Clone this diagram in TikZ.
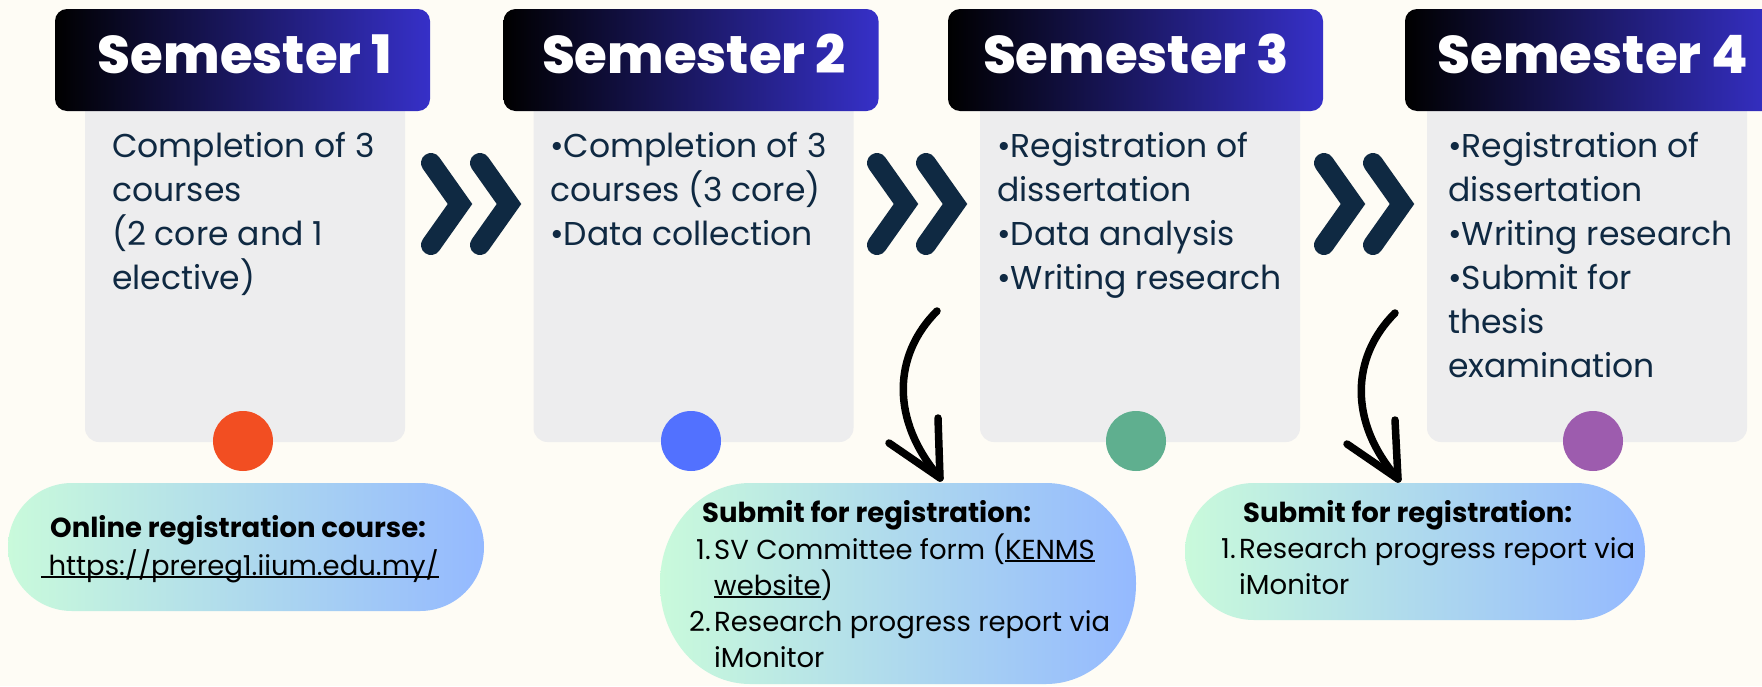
\documentclass[tikz,border=0pt]{standalone}
\usepackage{fontspec}
\setmainfont{Poppins}
\IfFontExistsTF{Poppins ExtraBold}{\newfontfamily\hdrfont{Poppins ExtraBold}\newcommand\hdrsize{53}}{\newfontfamily\hdrfont{Poppins}[UprightFont=*-Bold]\newcommand\hdrsize{54}}
\definecolor{bg}{HTML}{FEFCF5}
\definecolor{bodygray}{HTML}{EDEDEE}
\definecolor{hdrR}{HTML}{3630C8}
\definecolor{navy}{HTML}{0F2942}
\definecolor{dotA}{HTML}{F24E22}
\definecolor{dotB}{HTML}{5271FF}
\definecolor{dotC}{HTML}{5FAF8F}
\definecolor{dotD}{HTML}{9D5CAE}
\definecolor{mint}{HTML}{C9FADB}
\definecolor{sky}{HTML}{94B9FF}
\newcommand\myul[1]{\setbox0\hbox{#1}\rlap{\rule[-3pt]{\wd0}{1.8pt}}\box0}
\newcommand\mypill[6]{%
  \shade[left color=mint, right color=sky]
    (#1+#5,#2) -- (#3-#5,#2) arc[start angle=-90, end angle=0, x radius=#5, y radius=#6]
    -- (#3,#4-#6) arc[start angle=0, end angle=90, x radius=#5, y radius=#6]
    -- (#1+#5,#4) arc[start angle=90, end angle=180, x radius=#5, y radius=#6]
    -- (#1,#2+#6) arc[start angle=180, end angle=270, x radius=#5, y radius=#6] -- cycle;}
\tikzset{
  hdrbox/.style={shade, left color=black, right color=hdrR, rounded corners=12pt,
    minimum width=375pt, minimum height=102pt, inner sep=0pt},
  hdrtext/.style={anchor=base, text=white, inner sep=0pt,
    font=\fontsize{\hdrsize}{60}\hdrfont},
  bodybox/.style={fill=bodygray, rounded corners=14pt, minimum width=320pt,
    minimum height=347pt, inner sep=0pt},
  bodytext/.style={anchor=base west, align=left, inner sep=0pt, text=navy,
    font=\fontsize{33}{44}\selectfont},
  dot/.style={circle, minimum size=60pt, inner sep=0pt},
  chev/.style={draw=navy, line width=20pt, line cap=round, line join=miter},
  curvearrow/.style={draw=black, line width=7.5pt, line cap=round, line join=round},
  bubtitle/.style={anchor=base west, inner sep=0pt, text=black,
    font=\fontsize{27.5}{36}\selectfont\bfseries},
  bubtext/.style={anchor=base west, align=left, inner sep=0pt, text=black,
    font=\fontsize{27.5}{36}\selectfont},
  bubnum/.style={anchor=base east, inner sep=0pt, text=black,
    font=\fontsize{27.5}{36}\selectfont},
}
\begin{document}
\begin{tikzpicture}[x=1pt, y=-1pt]
\useasboundingbox (0,0) rectangle (1762,686);
\fill[bg] (0,0) rectangle (1762,686);

% bodies
\node[bodybox] (b1) at (245,268.5) {};
\node[bodybox] (b2) at (693.5,268.5) {};
\node[bodybox] (b3) at (1140,268.5) {};
\node[bodybox] (b4) at (1587,268.5) {};

% headers
\node[hdrbox] (h1) at (242.5,60) {};
\node[hdrbox] (h2) at (691,60) {};
\node[hdrbox] (h3) at (1135.5,60) {};
\node[hdrbox] (h4) at (1592.5,60) {};
\node[hdrtext] (t1) at (245,73) {Semester 1};
\node[hdrtext] (t2) at (694,73) {Semester 2};
\node[hdrtext] (t3) at (1136,73) {Semester 3};
\node[hdrtext] (t4) at (1593,73) {Semester 4};

% body texts (anchor = baseline of last line)
\node[bodytext] (x1) at (112,289) {Completion of 3\\courses\\(2 core and 1\\elective)};
\node[bodytext] (x2) at (550,245) {•Completion of 3\\courses (3 core)\\•Data collection};
\node[bodytext] (x3) at (997,289) {•Registration of\\dissertation\\•Data analysis\\•Writing research};
\node[bodytext] (x4) at (1448,377) {•Registration of\\dissertation\\•Writing research\\•Submit for\\thesis\\examination};

% chevrons
\foreach \dx in {0,446,893}{
  \draw[chev] (431+\dx,163) -- (460+\dx,204) -- (431+\dx,245);
  \draw[chev] (480+\dx,163) -- (509+\dx,204) -- (480+\dx,245);
}

% dots
\node[dot, fill=dotA] (d1) at (243,441) {};
\node[dot, fill=dotB] (d2) at (691,441) {};
\node[dot, fill=dotC] (d3) at (1136,441) {};
\node[dot, fill=dotD] (d4) at (1593,441) {};

% bubbles
\mypill{8}{483}{484}{611}{64}{64}
\mypill{660}{483}{1136}{684}{90}{100}
\mypill{1185}{483}{1645}{620}{69}{68.5}

\node[bubtitle] (p1a) at (50,537) {Online registration course:};
\node[bubtext] (p1b) at (41,575) {\myul{\ https://prereg1.iium.edu.my/}};

\node[bubtitle] (p2a) at (702,522) {Submit for registration:};
\node[bubnum] (p2n1) at (711,559) {1.};
\node[bubtext] (p2b) at (714,595) {SV Committee form (\myul{KENMS}\\\myul{website})};
\node[bubnum] (p2n2) at (711,631) {2.};
\node[bubtext] (p2c) at (714,667) {Research progress report via\\iMonitor};

\node[bubtitle] (p3a) at (1243,522) {Submit for registration:};
\node[bubnum] (p3n1) at (1236,558) {1.};
\node[bubtext] (p3b) at (1239,594) {Research progress report via\\iMonitor};

% curved arrows
\coordinate (a1s) at (937,311);
\coordinate (a1e) at (940,478);
\coordinate (a2s) at (1395,313);
\coordinate (a2e) at (1398,479);
\draw[curvearrow] (a1s) .. controls (893,355) and (890,420) .. (a1e);
\draw[curvearrow] (889,443) -- (a1e) -- (938,418);
\draw[curvearrow] (a2s) .. controls (1351,357) and (1348,422) .. (a2e);
\draw[curvearrow] (1347,444) -- (a2e) -- (1395,420);
\end{tikzpicture}
\end{document}
